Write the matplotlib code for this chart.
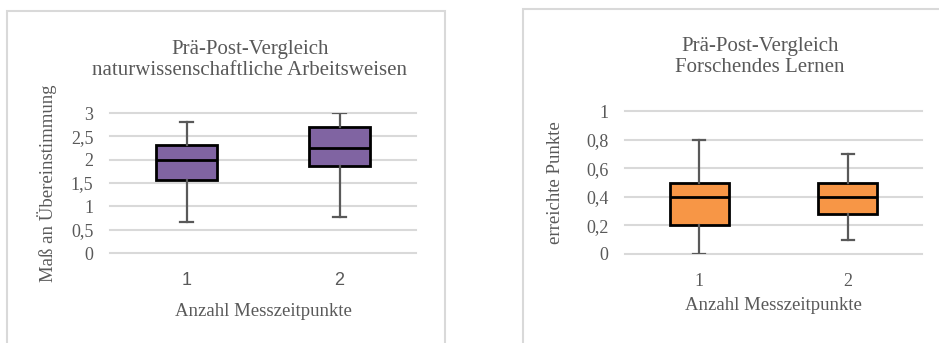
import matplotlib.pyplot as plt
from matplotlib.patches import Rectangle

# Kennwerte der Boxplots (Prä = 1, Post = 2)
messzeitpunkte = [1, 2]

nawi_whislo = [0.66, 0.77]
nawi_q1 = [1.56, 1.86]
nawi_med = [2.0, 2.25]
nawi_q3 = [2.32, 2.69]
nawi_whishi = [2.81, 3.0]

fl_whislo = [0.0, 0.1]
fl_q1 = [0.2, 0.28]
fl_med = [0.4, 0.4]
fl_q3 = [0.5, 0.5]
fl_whishi = [0.8, 0.7]

nawi_ticks = [0, 0.5, 1, 1.5, 2, 2.5, 3]
fl_ticks = [0, 0.2, 0.4, 0.6, 0.8, 1]

GRAU = '#595959'
W, H = 939, 343

plt.rcParams['font.family'] = ['Liberation Serif', 'DejaVu Serif']

fig = plt.figure(figsize=(W / 100, H / 100), dpi=100)

# Rahmen der beiden Diagramme
fig.patches.append(Rectangle((7 / W, -0.1), (445 - 7) / W, (H - 11) / H + 0.1,
                             transform=fig.transFigure, fill=False,
                             edgecolor='#D9D9D9', lw=1.5))
fig.patches.append(Rectangle((523 / W, -0.1), 0.5, (H - 9) / H + 0.1,
                             transform=fig.transFigure, fill=False,
                             edgecolor='#D9D9D9', lw=1.5))


def stats(lo, q1, med, q3, hi):
    return [dict(whislo=lo[i], q1=q1[i], med=med[i], q3=q3[i], whishi=hi[i],
                 fliers=[]) for i in range(len(med))]


def boxchart(rect, st, farbe, ticks, fmt, ylabel, title_lines, sans_xticks, title_xy, xlabel_xy, ylabel_xy):
    ax = fig.add_axes([rect[0] / W, (H - rect[3]) / H,
                       (rect[2] - rect[0]) / W, (rect[3] - rect[1]) / H])
    ax.bxp(st, positions=messzeitpunkte, widths=0.4, patch_artist=True,
           showfliers=False,
           boxprops=dict(facecolor=farbe, edgecolor='black', linewidth=2),
           medianprops=dict(color='black', linewidth=2),
           whiskerprops=dict(color=GRAU, linewidth=1.6),
           capprops=dict(color=GRAU, linewidth=1.6), capwidths=0.08)
    ax.set_xlim(0.5, 2.5)
    ax.set_ylim(ticks[0], ticks[-1])
    ax.set_yticks(ticks)
    ax.set_yticklabels([fmt(t) for t in ticks], color=GRAU, fontsize=13)
    ax.set_xticks(messzeitpunkte)
    if sans_xticks:
        ax.set_xticklabels(['1', '2'], color=GRAU, fontsize=13,
                           family='Liberation Sans')
    else:
        ax.set_xticklabels(['1', '2'], color=GRAU, fontsize=13)
    ax.tick_params(length=0, pad=14)
    ax.tick_params(axis='y', pad=12)
    for t in ticks:
        ax.axhline(t, color='#D9D9D9', lw=1.5, zorder=0, clip_on=False)
    for s in ax.spines.values():
        s.set_visible(False)
    ax.patch.set_alpha(0)
    fig.text(title_xy[0] / W, 1 - title_xy[1] / H, '\n'.join(title_lines),
             ha='center', va='center', fontsize=15, color=GRAU, linespacing=1.2)
    fig.text(xlabel_xy[0] / W, 1 - xlabel_xy[1] / H, 'Anzahl Messzeitpunkte',
             ha='center', va='center', fontsize=13.5, color=GRAU)
    fig.text(ylabel_xy[0] / W, 1 - ylabel_xy[1] / H, ylabel, rotation=90,
             ha='center', va='center', fontsize=13.5, color=GRAU)
    return ax


de = lambda v: ('%g' % v).replace('.', ',')

boxchart((110, 113, 416, 253),
         stats(nawi_whislo, nawi_q1, nawi_med, nawi_q3, nawi_whishi),
         '#8064A2', nawi_ticks, de, 'Maß an Übereinstimmung',
         ['Prä-Post-Vergleich', 'naturwissenschaftliche Arbeitsweisen'], True,
         (250, 60), (263, 312), (47, 183))

boxchart((625, 111, 922, 254),
         stats(fl_whislo, fl_q1, fl_med, fl_q3, fl_whishi),
         '#F79646', fl_ticks, de, 'erreichte Punkte',
         ['Prä-Post-Vergleich', 'Forschendes Lernen'], False,
         (760, 57), (773, 305), (555, 183))

plt.savefig('out.png', dpi=100)
